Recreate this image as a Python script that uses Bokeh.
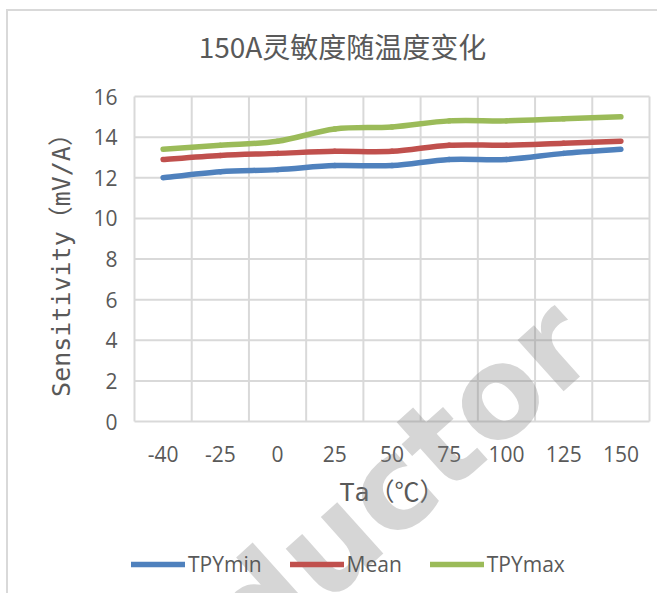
from bokeh.plotting import figure
from bokeh.models import ColumnDataSource, Range1d, FixedTicker, Legend, LegendItem, Label
from bokeh.embed import file_html
from bokeh.resources import INLINE

temps = ["-40", "-25", "0", "25", "50", "75", "100", "125", "150"]
tpy_min = [12.0, 12.3, 12.4, 12.6, 12.6, 12.9, 12.9, 13.2, 13.4]
mean_v = [12.9, 13.1, 13.2, 13.3, 13.3, 13.6, 13.6, 13.7, 13.8]
tpy_max = [13.4, 13.6, 13.8, 14.4, 14.5, 14.8, 14.8, 14.9, 15.0]
y_ticks = [0, 2, 4, 6, 8, 10, 12, 14, 16]

series = [("TPYmin", tpy_min, "#4F81BD"), ("Mean", mean_v, "#C0504D"), ("TPYmax", tpy_max, "#9BBB59")]

TXT = "#595959"
GRID = "#D9D9D9"
MONO = "'DejaVu Sans Mono', 'Noto Sans CJK SC'"

# canvas geometry (pixels) -- plot area inside the canvas
W, H = 651, 584
PL, PR, PT, PB = 126, 641, 85, 410          # plot-area edges in canvas pixels
ncat = len(temps)
ymax = y_ticks[-1]
sx = (PR - PL) / ncat
sy = (PB - PT) / ymax
x_range = Range1d(-PL / sx, ncat + (W - PR) / sx)
y_range = Range1d(-(H - PB) / sy, ymax + PT / sy)

p = figure(width=W, height=H, output_backend="svg", toolbar_location=None,
           x_range=x_range, y_range=y_range,
           min_border_left=0, min_border_right=0, min_border_top=0, min_border_bottom=0)
p.margin = (9, 0, 0, 6)
p.outline_line_color = None
p.background_fill_color = "white"
p.border_fill_color = "white"
p.styles = {"border-left": "2px solid #d9d9d9", "border-top": "2px solid #d9d9d9"}
p.grid.visible = False

# axes drawn at the plot-area edges
xc = [i + 0.5 for i in range(ncat)]
p.xaxis.ticker = FixedTicker(ticks=xc)
p.xaxis.major_label_overrides = {x: t for x, t in zip(xc, temps)}
p.xaxis.fixed_location = 0
p.xaxis.bounds = (0, ncat)
p.yaxis.ticker = FixedTicker(ticks=y_ticks)
p.yaxis.fixed_location = 0
p.yaxis.bounds = (0, ymax)
for ax in (p.xaxis[0], p.yaxis[0]):
    ax.axis_line_color = None
    ax.major_tick_line_color = None
    ax.minor_tick_line_color = None
    ax.major_tick_out = 0
    ax.major_tick_in = 0
    ax.major_label_text_font = "Open Sans"
    ax.major_label_text_font_size = "21px"
    ax.major_label_text_color = TXT
    ax.axis_label_text_font = MONO
    ax.axis_label_text_font_size = "25px"
    ax.axis_label_text_font_style = "normal"
    ax.axis_label_text_color = TXT
p.xaxis.axis_label = "Ta（℃）"
p.yaxis.axis_label = "Sensitivity（mV/A）"
p.xaxis.major_label_standoff = 24
p.xaxis.axis_label_standoff = 13
p.yaxis.major_label_standoff = 17
p.yaxis.axis_label_standoff = 14

# gridlines from the category boundaries and y ticks
gx = list(range(ncat + 1))
p.segment(x0=gx, y0=[y_ticks[0]] * len(gx), x1=gx, y1=[ymax] * len(gx),
          line_color=GRID, line_width=2, level="underlay")
p.segment(x0=[0] * len(y_ticks), y0=y_ticks, x1=[ncat] * len(y_ticks), y1=y_ticks,
          line_color=GRID, line_width=2, level="underlay")

# smoothed lines (Excel-like bezier smoothing)
def bez(vals):
    n = len(vals)
    d = dict(x0=[], y0=[], x1=[], y1=[], cx0=[], cy0=[], cx1=[], cy1=[])
    for i in range(n - 1):
        xa, ya = xc[i], vals[i]
        xb, yb = xc[i + 1], vals[i + 1]
        xm, ym = (xc[i - 1], vals[i - 1]) if i > 0 else (xa, ya)
        xp, yp = (xc[i + 2], vals[i + 2]) if i + 2 < n else (xb, yb)
        d["x0"].append(xa); d["y0"].append(ya)
        d["x1"].append(xb); d["y1"].append(yb)
        d["cx0"].append(xa + (xb - xm) / 6); d["cy0"].append(ya + (yb - ym) / 6)
        d["cx1"].append(xb - (xp - xa) / 6); d["cy1"].append(yb - (yp - ya) / 6)
    return ColumnDataSource(d)

items = []
for name, vals, col in series:
    r = p.bezier(x0="x0", y0="y0", x1="x1", y1="y1", cx0="cx0", cy0="cy0", cx1="cx1", cy1="cy1",
                 source=bez(vals), line_color=col, line_width=5.5, line_cap="round")
    items.append(LegendItem(label=name, renderers=[r]))

legend = Legend(items=items, orientation="horizontal", location=(123, 17),
                glyph_width=54, glyph_height=20, label_standoff=3, spacing=28,
                padding=0, margin=0, border_line_color=None, background_fill_alpha=0,
                label_text_font="Open Sans", label_text_font_size="21px", label_text_color=TXT)
p.add_layout(legend, "center")

# chart title
title = Label(x=(334 - PL) / sx, y=ymax + (PT - 34) / sy, text="150A灵敏度随温度变化",
              text_font="Noto Sans CJK SC", text_font_size="28px", text_color=TXT,
              text_align="center", text_baseline="middle")
p.add_layout(title)

# watermark
wm = Label(x=(392 - PL) / sx, y=-(468 - PB) / sy, text="ductor", angle=42, angle_units="deg",
           text_font="DejaVu Sans", text_font_style="bold", text_font_size="126px",
           text_color="#808080", text_alpha=0.32, text_align="center", text_baseline="middle",
           level="overlay")
p.add_layout(wm)

open("out.html", "w").write(file_html(p, INLINE))
